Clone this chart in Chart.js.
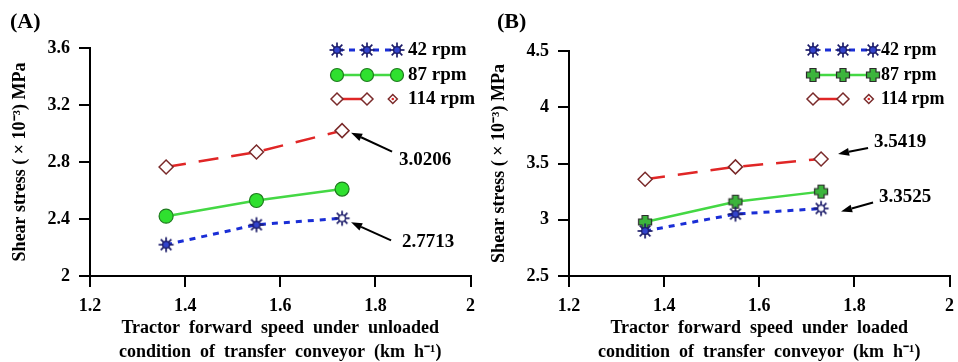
<!DOCTYPE html>
<html>
<head>
<meta charset="utf-8">
<script src="https://cdn.jsdelivr.net/npm/chart.js@4.4.0/dist/chart.umd.min.js"></script>
<style>
  body { margin: 0; background: #fff; width: 958px; height: 362px; overflow: hidden; }
  .panel { position: absolute; top: 0; width: 479px; height: 362px; }
  #wrapA { left: 0; }
  #wrapB { left: 479px; }
</style>
</head>
<body>
<div class="panel" id="wrapA"><canvas id="chartA"></canvas></div>
<div class="panel" id="wrapB"><canvas id="chartB"></canvas></div>
<script>
// forward speed (km/h)
const speeds = [1.36, 1.55, 1.73];
const seriesNames = ['42 rpm', '87 rpm', '114 rpm'];

// (A) unloaded conveyor, shear stress x10^-3 MPa
const shearA42 = [2.22, 2.36, 2.405];
const shearA87 = [2.42, 2.53, 2.61];
const shearA114 = [2.765, 2.87, 3.02];

// (B) loaded conveyor
const shearB42 = [2.90, 3.05, 3.10];
const shearB87 = [2.98, 3.16, 3.25];
const shearB114 = [3.36, 3.47, 3.54];

const xTicks = ['1.2', '1.4', '1.6', '1.8', '2'];
const yTicksA = ['2', '2.4', '2.8', '3.2', '3.6'];
const yTicksB = ['2.5', '3', '3.5', '4', '4.5'];

const notesA = ['3.0206', '2.7713'];
const notesB = ['3.5419', '3.3525'];

const SERIF = "'Liberation Serif', 'Times New Roman', serif";
const NAVY = '#1c1c6a';

// marker images
function makeSun(fill) {
  const c = document.createElement('canvas');
  c.width = 18; c.height = 18;
  const g = c.getContext('2d');
  g.strokeStyle = NAVY; g.lineWidth = 1.7;
  for (let i = 0; i < 8; i++) {
    const a = i * Math.PI / 4;
    g.beginPath();
    g.moveTo(9 + Math.cos(a) * 3, 9 + Math.sin(a) * 3);
    g.lineTo(9 + Math.cos(a) * 7.5, 9 + Math.sin(a) * 7.5);
    g.stroke();
  }
  g.beginPath(); g.arc(9, 9, 3.4, 0, Math.PI * 2);
  g.fillStyle = fill; g.fill(); g.lineWidth = 1.3; g.stroke();
  return c;
}
function makePlus() {
  const c = document.createElement('canvas');
  c.width = 16; c.height = 16;
  const g = c.getContext('2d');
  const m = 8, a = 3, b = 6.5;
  g.beginPath();
  g.moveTo(m - a, m - b); g.lineTo(m + a, m - b); g.lineTo(m + a, m - a);
  g.lineTo(m + b, m - a); g.lineTo(m + b, m + a); g.lineTo(m + a, m + a);
  g.lineTo(m + a, m + b); g.lineTo(m - a, m + b); g.lineTo(m - a, m + a);
  g.lineTo(m - b, m + a); g.lineTo(m - b, m - a); g.lineTo(m - a, m - a);
  g.closePath();
  g.fillStyle = '#3cb43c'; g.fill();
  g.strokeStyle = '#2b2b2b'; g.lineWidth = 1.2; g.stroke();
  return c;
}
const sunFilled = makeSun('#3344cc');
const sunOpen = makeSun('#ffffff');
const plusMark = makePlus();

function drawMarker(ctx, ds, x, y, r) {
  const st = Array.isArray(ds.pointStyle) ? ds.pointStyle[0] : ds.pointStyle;
  if (st instanceof HTMLCanvasElement) {
    ctx.drawImage(st, x - st.width / 2, y - st.height / 2);
    return;
  }
  ctx.save();
  ctx.beginPath();
  if (st === 'circle') ctx.arc(x, y, r, 0, Math.PI * 2);
  else { ctx.moveTo(x - r, y); ctx.lineTo(x, y - r); ctx.lineTo(x + r, y); ctx.lineTo(x, y + r); ctx.closePath(); }
  ctx.fillStyle = ds.pointBackgroundColor; ctx.fill();
  ctx.strokeStyle = ds.pointBorderColor; ctx.lineWidth = ds.pointBorderWidth; ctx.setLineDash([]); ctx.stroke();
  ctx.restore();
}

function arrow(ctx, x0, y0, x1, y1) {
  const ang = Math.atan2(y1 - y0, x1 - x0);
  const hl = 11, hw = 4;
  const bx = x1 - Math.cos(ang) * hl, by = y1 - Math.sin(ang) * hl;
  ctx.beginPath(); ctx.moveTo(x0, y0); ctx.lineTo(bx, by);
  ctx.strokeStyle = '#000'; ctx.lineWidth = 2; ctx.setLineDash([]); ctx.stroke();
  ctx.beginPath();
  ctx.moveTo(x1, y1);
  ctx.lineTo(bx + Math.sin(ang) * hw, by - Math.cos(ang) * hw);
  ctx.lineTo(bx - Math.sin(ang) * hw, by + Math.cos(ang) * hw);
  ctx.closePath(); ctx.fillStyle = '#000'; ctx.fill();
}

const decorPlugin = {
  id: 'decor',
  afterDatasetsDraw(chart, args, opts) {
    const ctx = chart.ctx;
    const sets = chart.data.datasets;
    ctx.save();
    // panel label
    ctx.fillStyle = '#000';
    ctx.font = 'bold 22px ' + SERIF;
    ctx.textAlign = 'left'; ctx.textBaseline = 'middle';
    ctx.fillText(opts.label, opts.labelX, 22);

    // legend
    const lx = opts.legendX, w = opts.legendW, rows = [50, 75, 99];
    sets.forEach((ds, i) => {
      const y = rows[i];
      ctx.strokeStyle = ds.borderColor; ctx.lineWidth = ds.borderWidth;
      if (i === 2) {
        ctx.setLineDash([]);
        ctx.beginPath(); ctx.moveTo(lx, y); ctx.lineTo(lx + w / 2, y); ctx.stroke();
        drawMarker(ctx, ds, lx, y, 6);
        drawMarker(ctx, ds, lx + w / 2, y, 6);
        drawMarker(ctx, ds, lx + w * 0.93, y, 4.5);
        ctx.beginPath(); ctx.arc(lx + w * 0.93, y, 1.3, 0, Math.PI * 2);
        ctx.fillStyle = ds.borderColor; ctx.fill();
      } else {
        ctx.setLineDash(ds.borderDash || []);
        ctx.beginPath(); ctx.moveTo(lx, y); ctx.lineTo(lx + w, y); ctx.stroke();
        ctx.setLineDash([]);
        const leg = i === 0 ? Object.assign({}, ds, { pointStyle: sunFilled }) : ds;
        [0, w / 2, w].forEach(d => drawMarker(ctx, leg, lx + d, y, 6.5));
      }
      ctx.fillStyle = '#000';
      ctx.font = 'bold ' + opts.legendFont + 'px ' + SERIF;
      ctx.textAlign = 'left'; ctx.textBaseline = 'middle';
      ctx.fillText(seriesNames[i], opts.legendTextX, y);
    });

    // value notes with arrows, placed next to the last point
    opts.notes.forEach(n => {
      const meta = chart.getDatasetMeta(n.ds);
      const p = meta.data[meta.data.length - 1];
      arrow(ctx, p.x + n.tail[0], p.y + n.tail[1], p.x + n.tip[0], p.y + n.tip[1]);
      ctx.fillStyle = '#000';
      ctx.font = 'bold 19px ' + SERIF;
      ctx.textAlign = 'left'; ctx.textBaseline = 'middle';
      ctx.fillText(n.text, p.x + n.txt[0], p.y + n.txt[1]);
    });
    ctx.restore();
  }
};

function makeChart(id, s42, s87, s114, yMin, yMax, yStep, yLabels, plusStyle, xTitle, pad, deco) {
  const pts = vals => speeds.map((x, i) => ({ x: x, y: vals[i] }));
  const tickFont = { family: SERIF, size: 18, weight: 'bold' };
  const axisGrid = { display: true, drawOnChartArea: false, drawTicks: true, tickLength: 11, color: '#000', lineWidth: 2 };
  return new Chart(document.getElementById(id), {
    type: 'line',
    data: {
      datasets: [
        {
          label: seriesNames[0], data: pts(s42),
          borderColor: '#1a2ed6', borderWidth: 3, borderDash: [6, 6],
          pointStyle: [sunFilled, sunFilled, sunOpen], pointRadius: 7,
          pointBackgroundColor: '#3344cc', pointBorderColor: NAVY, pointBorderWidth: 1.3
        },
        {
          label: seriesNames[1], data: pts(s87),
          borderColor: '#44d844', borderWidth: 2.5,
          pointStyle: plusStyle ? plusMark : 'circle', pointRadius: 7,
          pointBackgroundColor: '#2fe02f', pointBorderColor: '#1e7a1e', pointBorderWidth: 1.2
        },
        {
          label: seriesNames[2], data: pts(s114),
          borderColor: '#e02626', borderWidth: 2.5, borderDash: [20, 13],
          pointStyle: 'rectRot', pointRadius: 7,
          pointBackgroundColor: '#ffffff', pointBorderColor: '#7a2a2a', pointBorderWidth: 1.5
        }
      ]
    },
    options: {
      responsive: true, maintainAspectRatio: false, animation: false,
      layout: { padding: pad },
      plugins: { legend: { display: false }, tooltip: { enabled: false }, decor: deco },
      scales: {
        x: {
          type: 'linear', min: 1.2, max: 2,
          ticks: { stepSize: 0.2, color: '#000', font: tickFont, padding: 9, maxRotation: 0,
                   callback: (v, i) => xTicks[i] },
          grid: axisGrid,
          border: { display: true, color: '#000', width: 2 },
          title: { display: true, text: xTitle, color: '#000',
                   font: { family: SERIF, size: 18, weight: 'bold', lineHeight: 1.35 },
                   padding: { top: 0, bottom: -2.5 } },
          afterFit: s => { s.height = 86; s.paddingLeft = 0; s.paddingRight = 0; }
        },
        y: {
          min: yMin, max: yMax,
          ticks: { stepSize: yStep, color: '#000', font: tickFont, padding: 9,
                   callback: (v, i) => yLabels[i] },
          grid: axisGrid,
          border: { display: true, color: '#000', width: 2 },
          title: { display: true, text: 'Shear stress ( \u00d7 10\u207b\u00b3) MPa', color: '#000',
                   font: { family: SERIF, size: 18, weight: 'bold' },
                   padding: { top: 10, bottom: 0 } },
          afterFit: s => { s.width = 90; s.paddingTop = 0; s.paddingBottom = 0; }
        }
      }
    },
    plugins: [decorPlugin]
  });
}

makeChart('chartA', shearA42, shearA87, shearA114, 2, 3.6, 0.4, yTicksA, false,
  ['Tractor  forward  speed  under  unloaded', 'condition  of  transfer  conveyor  (km  h\u207b\u00b9)'],
  { top: 48, right: 0, left: 0, bottom: 0 },
  { label: '(A)', labelX: 10, legendX: 337, legendW: 60, legendTextX: 408, legendFont: 19,
    notes: [
      { ds: 2, text: notesA[0], tip: [9, 2], tail: [50, 21], txt: [57, 29] },
      { ds: 0, text: notesA[1], tip: [9, 4], tail: [49, 22], txt: [60, 24] }
    ] });

makeChart('chartB', shearB42, shearB87, shearB114, 2.5, 4.5, 0.5, yTicksB, true,
  ['Tractor  forward  speed  under  loaded', 'condition  of  transfer  conveyor  (km  h\u207b\u00b9)'],
  { top: 51, right: 3, left: 0, bottom: 0 },
  { label: '(B)', labelX: 18, legendX: 334, legendW: 60, legendTextX: 402, legendFont: 18,
    notes: [
      { ds: 2, text: notesB[0], tip: [17, -5], tail: [47, -11], txt: [53, -17] },
      { ds: 0, text: notesB[1], tip: [20, 3], tail: [52, -6], txt: [58, -11] }
    ] });
</script>
</body>
</html>
